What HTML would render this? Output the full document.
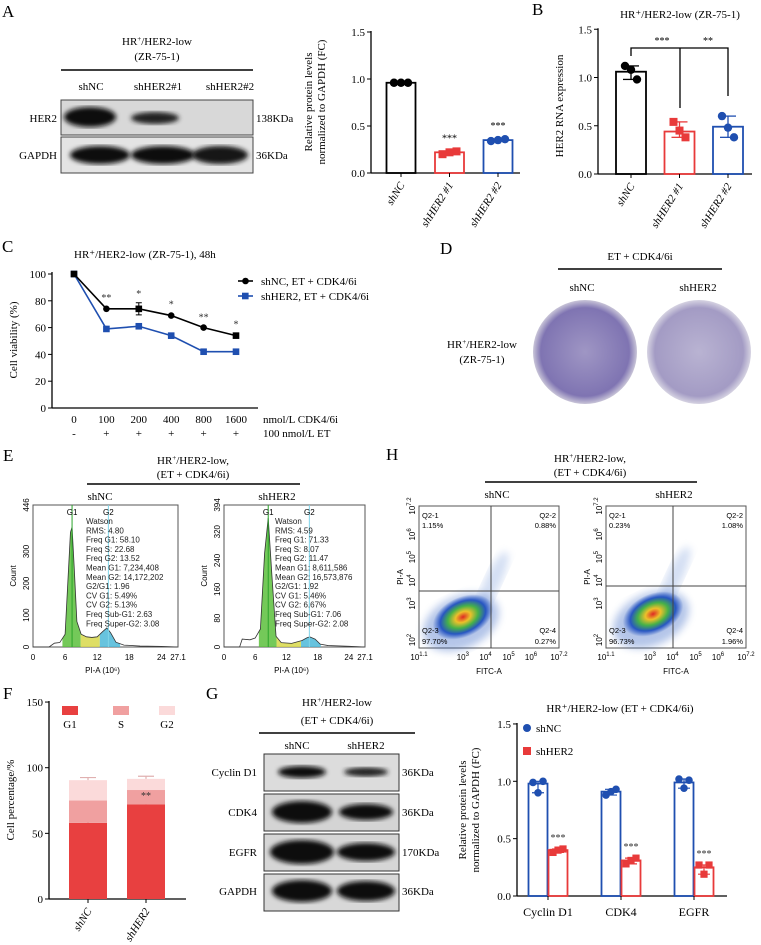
<!DOCTYPE html>
<html><head><meta charset="utf-8"><style>
html,body{margin:0;padding:0;background:#fff}
svg{display:block}
.s{font-family:"Liberation Serif",serif}
.a{font-family:"Liberation Sans",sans-serif}
</style></head><body>
<svg id="fig" width="761" height="945" viewBox="0 0 761 945" xmlns="http://www.w3.org/2000/svg">
<defs>
<radialGradient id="blob" cx="50%" cy="50%" r="50%">
<stop offset="0" stop-color="#e0201a"/><stop offset="0.25" stop-color="#f0c020"/><stop offset="0.5" stop-color="#40b040"/><stop offset="0.75" stop-color="#2050c0"/><stop offset="1" stop-color="#2050c0" stop-opacity="0"/>
</radialGradient>
<radialGradient id="plate" cx="50%" cy="50%" r="50%">
<stop offset="0" stop-color="#9f96c4"/><stop offset="0.85" stop-color="#7f74b2"/><stop offset="1" stop-color="#c9c5d8"/>
</radialGradient>
<radialGradient id="plate2" cx="50%" cy="50%" r="50%">
<stop offset="0" stop-color="#b9b3d2"/><stop offset="0.85" stop-color="#a39bc4"/><stop offset="1" stop-color="#d6d3e2"/>
</radialGradient>
<filter id="bl"><feGaussianBlur stdDeviation="2.5"/></filter>
<filter id="bl2"><feGaussianBlur stdDeviation="4"/></filter>
</defs>

<g class="s" font-size="17">
<text x="2" y="17">A</text>
<text x="532" y="15">B</text>
<text x="2" y="252">C</text>
<text x="440" y="254">D</text>
<text x="3" y="461">E</text>
<text x="386" y="460">H</text>
<text x="3" y="699">F</text>
<text x="206" y="699">G</text>
</g>

<g class="s" font-size="11">
<text x="157" y="45" text-anchor="middle">HR<tspan font-size="7" dy="-4">+</tspan><tspan dy="4">/HER2-low</tspan></text>
<text x="157" y="60" text-anchor="middle">(ZR-75-1)</text>
<line x1="61" y1="70" x2="253" y2="70" stroke="#000" stroke-width="1.5"/>
<text x="91" y="90" text-anchor="middle">shNC</text>
<text x="158" y="90" text-anchor="middle">shHER2#1</text>
<text x="230" y="90" text-anchor="middle">shHER2#2</text>
<rect x="61" y="100" width="192" height="35" fill="#d8d8d8" stroke="#444"/>
<rect x="61" y="137" width="192" height="36" fill="#e4e4e4" stroke="#444"/>
<ellipse cx="90" cy="117" rx="26" ry="10" fill="#111" filter="url(#bl)"/>
<ellipse cx="155" cy="118" rx="24" ry="6" fill="#222" filter="url(#bl)"/>
<ellipse cx="100" cy="155" rx="30" ry="9" fill="#111" filter="url(#bl)"/>
<ellipse cx="163" cy="155" rx="32" ry="9" fill="#111" filter="url(#bl)"/>
<ellipse cx="220" cy="155" rx="28" ry="9" fill="#151515" filter="url(#bl)"/>
<text x="57" y="122" text-anchor="end">HER2</text>
<text x="57" y="159" text-anchor="end">GAPDH</text>
<text x="256" y="122">138KDa</text>
<text x="256" y="159">36KDa</text>
</g>
<g id="chartA" class="s"></g>
<g id="chartB" class="s"></g>
<g id="chartC" class="s"></g>

<g class="s" font-size="11">
<text x="640" y="260" text-anchor="middle">ET + CDK4/6i</text>
<line x1="558" y1="269" x2="722" y2="269" stroke="#000" stroke-width="1.5"/>
<text x="582" y="291" text-anchor="middle">shNC</text>
<text x="698" y="291" text-anchor="middle">shHER2</text>
<text x="482" y="348" text-anchor="middle">HR<tspan font-size="7" dy="-4">+</tspan><tspan dy="4">/HER2-low</tspan></text>
<text x="482" y="363" text-anchor="middle">(ZR-75-1)</text>
<ellipse cx="585" cy="352" rx="52" ry="52" fill="url(#plate)"/>
<ellipse cx="699" cy="352" rx="52" ry="52" fill="url(#plate2)"/>
</g>

<g class="s" font-size="11">
<text x="193" y="464" text-anchor="middle">HR<tspan font-size="7" dy="-4">+</tspan><tspan dy="4">/HER2-low,</tspan></text>
<text x="193" y="478" text-anchor="middle">(ET + CDK4/6i)</text>
<line x1="87" y1="484" x2="300" y2="484" stroke="#000" stroke-width="1.5"/>
<text x="100" y="500" text-anchor="middle">shNC</text>
<text x="277" y="500" text-anchor="middle">shHER2</text>
</g>
<g id="histE" class="a"></g>

<g class="s" font-size="11">
<text x="590" y="462" text-anchor="middle">HR<tspan font-size="7" dy="-4">+</tspan><tspan dy="4">/HER2-low,</tspan></text>
<text x="590" y="476" text-anchor="middle">(ET + CDK4/6i)</text>
<line x1="485" y1="482" x2="697" y2="482" stroke="#000" stroke-width="1.5"/>
<text x="497" y="498" text-anchor="middle">shNC</text>
<text x="674" y="498" text-anchor="middle">shHER2</text>
</g>
<g id="flowH" class="a"></g>

<g id="chartF" class="s"></g>

<g class="s" font-size="11">
<text x="337" y="706" text-anchor="middle">HR<tspan font-size="7" dy="-4">+</tspan><tspan dy="4">/HER2-low</tspan></text>
<text x="337" y="724" text-anchor="middle">(ET + CDK4/6i)</text>
<line x1="259" y1="733" x2="415" y2="733" stroke="#000" stroke-width="1.5"/>
<text x="297" y="749" text-anchor="middle">shNC</text>
<text x="366" y="749" text-anchor="middle">shHER2</text>
<rect x="264" y="754" width="135" height="37" fill="#dcdcdc" stroke="#333"/>
<rect x="264" y="794" width="135" height="37" fill="#d4d4d4" stroke="#333"/>
<rect x="264" y="834" width="135" height="37" fill="#d6d6d6" stroke="#333"/>
<rect x="264" y="874" width="135" height="37" fill="#d8d8d8" stroke="#333"/>
<ellipse cx="302" cy="772" rx="24" ry="6" fill="#111" filter="url(#bl)"/>
<ellipse cx="366" cy="772" rx="22" ry="4.5" fill="#222" filter="url(#bl)"/>
<ellipse cx="302" cy="812" rx="30" ry="11" fill="#0a0a0a" filter="url(#bl)"/>
<ellipse cx="366" cy="812" rx="27" ry="8" fill="#111" filter="url(#bl)"/>
<ellipse cx="302" cy="852" rx="32" ry="12" fill="#0a0a0a" filter="url(#bl)"/>
<ellipse cx="366" cy="852" rx="29" ry="9" fill="#111" filter="url(#bl)"/>
<ellipse cx="302" cy="891" rx="30" ry="11" fill="#0a0a0a" filter="url(#bl)"/>
<ellipse cx="366" cy="891" rx="29" ry="10" fill="#0a0a0a" filter="url(#bl)"/>
<text x="257" y="776" text-anchor="end">Cyclin D1</text>
<text x="257" y="816" text-anchor="end">CDK4</text>
<text x="257" y="856" text-anchor="end">EGFR</text>
<text x="257" y="895" text-anchor="end">GAPDH</text>
<text x="402" y="776">36KDa</text>
<text x="402" y="816">36KDa</text>
<text x="402" y="856">170KDa</text>
<text x="402" y="895">36KDa</text>
</g>
<g id="chartG" class="s"></g>
</svg>

<script>
const aCats = ["shNC", "shHER2 #1", "shHER2 #2"];
const aMeans = [0.96, 0.22, 0.35];
const aPts = [[0.96, 0.96, 0.96], [0.20, 0.22, 0.23], [0.34, 0.35, 0.36]];
const aStars = ["", "***", "***"];
const bCats = ["shNC", "shHER2 #1", "shHER2 #2"];
const bMeans = [1.06, 0.44, 0.49];
const bPts = [[1.12, 1.08, 0.98], [0.54, 0.45, 0.38], [0.60, 0.48, 0.38]];
const barTicks = [0, 0.5, 1.0, 1.5];
const cDoses = ["0", "100", "200", "400", "800", "1600"];
const cEt = ["-", "+", "+", "+", "+", "+"];
const cNC = [100, 74, 74, 69, 60, 54];
const cNCerr = [1, 1.5, 4.5, 1.5, 1, 1.5];
const cHER2 = [100, 59, 61, 54, 42, 42];
const cHER2err = [1, 1, 1, 2, 1, 1];
const cStars = ["", "**", "*", "*", "**", "*"];
const cTicks = [0, 20, 40, 60, 80, 100];
const fCats = ["shNC", "shHER2"];
const fG1 = [58, 72];
const fS = [17, 11];
const fG2 = [15.5, 8.5];
const fTicks = [0, 50, 100, 150];
const gCats = ["Cyclin D1", "CDK4", "EGFR"];
const gNC = [0.98, 0.91, 0.99];
const gNCpts = [[0.99, 0.90, 1.00], [0.88, 0.91, 0.93], [1.02, 0.94, 1.01]];
const gHER2 = [0.40, 0.31, 0.25];
const gHER2pts = [[0.38, 0.40, 0.41], [0.28, 0.31, 0.33], [0.27, 0.19, 0.27]];
const e1X = [0, 3, 4, 5, 6, 6.5, 7, 7.3, 7.7, 8.2, 9, 10, 11, 12, 13, 13.8, 14.5, 15.5, 17, 20, 24, 27];
const e1Y = [0, 0, 12, 14, 40, 200, 360, 377, 250, 80, 40, 32, 30, 32, 48, 60, 45, 15, 6, 3, 2, 0];
const e2X = [0, 3, 3.5, 5, 6, 7, 7.8, 8.5, 9.2, 10, 11, 13, 15, 16, 16.5, 17.5, 18.5, 20, 24, 27];
const e2Y = [0, 0, 22, 20, 25, 50, 260, 358, 200, 30, 12, 10, 18, 26, 28, 22, 8, 4, 2, 0];
const eText1 = ["Watson","RMS: 4.80","Freq G1: 58.10","Freq S: 22.68","Freq G2: 13.52","Mean G1: 7,234,408","Mean G2: 14,172,202","G2/G1: 1.96","CV G1: 5.49%","CV G2: 5.13%","Freq Sub-G1: 2.63","Freq Super-G2: 3.08"];
const eText2 = ["Watson","RMS: 4.59","Freq G1: 71.33","Freq S: 8.07","Freq G2: 11.47","Mean G1: 8,611,586","Mean G2: 16,573,876","G2/G1: 1.92","CV G1: 5.46%","CV G2: 6.67%","Freq Sub-G1: 7.06","Freq Super-G2: 2.08"];
const hQuad1 = ["1.15%", "0.88%", "97.70%", "0.27%"];
const hQuad2 = ["0.23%", "1.08%", "96.73%", "1.96%"];

const NS = "http://www.w3.org/2000/svg";
function mk(parent, tag, attrs, text) {
  const el = document.createElementNS(NS, tag);
  for (const k in attrs) el.setAttribute(k, attrs[k]);
  if (text !== undefined) el.textContent = text;
  parent.appendChild(el);
  return el;
}

function barChart(gid, cats, means, pts, colors, cfg) {
  const g = document.getElementById(gid);
  const y = v => cfg.y0 - v * cfg.py;
  mk(g, "line", {x1: cfg.ax, y1: y(1.5) - 1, x2: cfg.ax, y2: cfg.y0, stroke: "#000", "stroke-width": 1.3});
  mk(g, "line", {x1: cfg.ax, y1: cfg.y0, x2: cfg.xend, y2: cfg.y0, stroke: "#000", "stroke-width": 1.3});
  barTicks.forEach(t => {
    mk(g, "line", {x1: cfg.ax - 4, y1: y(t), x2: cfg.ax, y2: y(t), stroke: "#000"});
    const tx = mk(g, "text", {x: cfg.ax - 6, y: y(t) + 4, "text-anchor": "end", "font-size": 11}, t.toFixed(1));
    
    
  });
  cats.forEach((c, i) => {
    const cx = cfg.x0 + i * cfg.dx;
    const b = mk(g, "rect", {x: cx - cfg.bw / 2, y: y(means[i]), width: cfg.bw, height: cfg.y0 - y(means[i]), fill: "none", stroke: colors[i], "stroke-width": 1.8});
    
    
    const lo = Math.min(...pts[i]), hi = Math.max(...pts[i]);
    mk(g, "line", {x1: cx, y1: y(hi), x2: cx, y2: y(lo), stroke: colors[i], "stroke-width": 1.3});
    mk(g, "line", {x1: cx - 8, y1: y(hi), x2: cx + 8, y2: y(hi), stroke: colors[i], "stroke-width": 1.3});
    mk(g, "line", {x1: cx - 8, y1: y(lo), x2: cx + 8, y2: y(lo), stroke: colors[i], "stroke-width": 1.3});
    mk(g, "line", {x1: cx, y1: cfg.y0, x2: cx, y2: cfg.y0 + 4, stroke: "#000"});
    pts[i].forEach((p, j) => {
      const px = cx + (j - 1) * cfg.jit;
      let m;
      if (i === 1) m = mk(g, "rect", {x: px - 4, y: y(p) - 4, width: 8, height: 8, fill: colors[i]});
      else m = mk(g, "circle", {cx: px, cy: y(p), r: 4.2, fill: colors[i]});
      
      
    });
    if (cfg.stars && cfg.stars[i]) mk(g, "text", {x: cx, y: y(hi) - 10, "text-anchor": "middle", "font-size": 10}, cfg.stars[i]);
    const lx = cx + 4, ly = cfg.y0 + 12;
    const lt = mk(g, "text", {x: lx, y: ly, "text-anchor": "end", "font-size": 11, "font-style": "italic", transform: `rotate(-58 ${lx} ${ly})`}, c);
    
    
  });
  const yl = mk(g, "text", {transform: `translate(${cfg.ylx},${cfg.yly}) rotate(-90)`, "text-anchor": "middle", "font-size": 11});
  cfg.ylab.forEach((l, k) => mk(yl, "tspan", {x: 0, dy: k ? 13 : 0}, l));
  
  
}
const cols3 = ["#000", "#e83a3a", "#1f4fb0"];
barChart("chartA", aCats, aMeans, aPts, cols3, {ax: 371, y0: 173, py: 94, x0: 401, dx: 48.5, bw: 29, xend: 520, jit: 7, stars: aStars, ylx: 312, yly: 102, ylab: ["Relative protein levels", "normalized to GAPDH (FC)"]});
barChart("chartB", bCats, bMeans, bPts, cols3, {ax: 598, y0: 174, py: 96.5, x0: 631, dx: 48.5, bw: 30, xend: 752, jit: 6, ylx: 563, yly: 106, ylab: ["HER2 RNA expression"]});
(function () {
  const g = document.getElementById("chartB");
  mk(g, "text", {x: 680, y: 18, "text-anchor": "middle", "font-size": 11}, "HR⁺/HER2-low (ZR-75-1)");
  mk(g, "path", {d: "M631 56 V48 H728 V96 M680 48 V108", fill: "none", stroke: "#000", "stroke-width": 1.3});
  mk(g, "text", {x: 662, y: 44, "text-anchor": "middle", "font-size": 10}, "***");
  mk(g, "text", {x: 708, y: 44, "text-anchor": "middle", "font-size": 10}, "**");
})();

(function () {
  const g = document.getElementById("chartC");
  const y = v => 408 - v * 1.34;
  const x = i => 74 + i * 32.4;
  mk(g, "text", {x: 74, y: 258, "font-size": 11}, "HR⁺/HER2-low (ZR-75-1), 48h");
  mk(g, "line", {x1: 52, y1: 272, x2: 52, y2: 408, stroke: "#000", "stroke-width": 1.3});
  mk(g, "line", {x1: 52, y1: 408, x2: 258, y2: 408, stroke: "#000", "stroke-width": 1.3});
  cTicks.forEach(t => {
    mk(g, "line", {x1: 48, y1: y(t), x2: 52, y2: y(t), stroke: "#000"});
    const tt = mk(g, "text", {x: 46, y: y(t) + 4, "text-anchor": "end", "font-size": 11}, t);
    
    
  });
  cDoses.forEach((d, i) => {
    const tt = mk(g, "text", {x: x(i), y: 423, "text-anchor": "middle", "font-size": 11}, d);
    
    
    mk(g, "text", {x: x(i), y: 437, "text-anchor": "middle", "font-size": 11}, cEt[i]);
  });
  mk(g, "text", {x: 263, y: 423, "font-size": 11}, "nmol/L CDK4/6i");
  mk(g, "text", {x: 263, y: 437, "font-size": 11}, "100 nmol/L ET");
  const yl = mk(g, "text", {transform: "translate(17,340) rotate(-90)", "text-anchor": "middle", "font-size": 11}, "Cell viability (%)");
  
  
  [[cHER2, cHER2err, "#1f4fb0", "square"], [cNC, cNCerr, "#000", "circle"]].forEach(([vals, errs, col, shp]) => {
    const pl = mk(g, "polyline", {points: vals.map((v, i) => x(i) + "," + y(v)).join(" "), fill: "none", stroke: col, "stroke-width": 1.6});
    
    
    vals.forEach((v, i) => {
      if (errs[i] > 1.5) {
        mk(g, "path", {d: `M${x(i) - 3} ${y(v + errs[i])} H${x(i) + 3} M${x(i)} ${y(v + errs[i])} V${y(v - errs[i])} M${x(i) - 3} ${y(v - errs[i])} H${x(i) + 3}`, stroke: col, fill: "none"});
      }
      let m;
      if (shp === "square" || i === 0 || i === 5 || i === 2) m = mk(g, "rect", {x: x(i) - 3.3, y: y(v) - 3.3, width: 6.6, height: 6.6, fill: col});
      else m = mk(g, "circle", {cx: x(i), cy: y(v), r: 3.3, fill: col});
      
      
    });
  });
  cStars.forEach((s, i) => { if (s) mk(g, "text", {x: x(i), y: y(cNC[i] + cNCerr[i]) - 6, "text-anchor": "middle", "font-size": 10, fill: "#333"}, s); });
  mk(g, "line", {x1: 238, y1: 281, x2: 253, y2: 281, stroke: "#000", "stroke-width": 1.6});
  mk(g, "circle", {cx: 245.5, cy: 281, r: 3.3, fill: "#000"});
  mk(g, "text", {x: 261, y: 285, "font-size": 11}, "shNC, ET + CDK4/6i");
  mk(g, "line", {x1: 238, y1: 296, x2: 253, y2: 296, stroke: "#1f4fb0", "stroke-width": 1.6});
  mk(g, "rect", {x: 242, y: 292.7, width: 6.6, height: 6.6, fill: "#1f4fb0"});
  mk(g, "text", {x: 261, y: 300, "font-size": 11}, "shHER2, ET + CDK4/6i");
})();

let clipN = 0;
function hist(L, R, ymax, yt, xs, ys, text, tx) {
  const g = document.getElementById("histE");
  const defs = document.querySelector("defs");
  const T = 505, B = 647;
  const x = v => L + v * (R - L) / 27.1;
  const y = v => B - v * (B - T) / ymax;
  mk(g, "rect", {x: L, y: T, width: R - L, height: B - T, fill: "#fff", stroke: "#555"});
  const pts = xs.map((v, i) => x(v) + "," + y(ys[i])).join(" ");
  const poly = x(xs[0]) + "," + B + " " + pts + " " + x(xs[xs.length - 1]) + "," + B;
  const pk = ys.indexOf(Math.max(...ys));
  const g2x = xs[pk] * 1.93;
  const bands = [[x(xs[pk] - 1.8), x(xs[pk] + 1.6), "#5cbf3c"], [x(xs[pk] + 1.6), x(g2x - 1.6), "#d8d84a"], [x(g2x - 1.6), x(g2x + 2.2), "#4cb8d8"]];
  bands.forEach(([a, b, c]) => {
    const id = "hc" + (clipN++);
    const cp = mk(defs, "clipPath", {id: id});
    mk(cp, "rect", {x: a, y: T, width: b - a, height: B - T});
    const area = mk(g, "polygon", {points: poly, fill: c, opacity: 0.85, "clip-path": `url(#${id})`});
    
    
  });
  const ln = mk(g, "polyline", {points: pts, fill: "none", stroke: "#333", "stroke-width": 0.8});
  
  
  mk(g, "line", {x1: x(xs[pk]), y1: T, x2: x(xs[pk]), y2: B, stroke: "#2aa52a"});
  mk(g, "line", {x1: x(g2x), y1: T, x2: x(g2x), y2: B, stroke: "#7fd4e8"});
  mk(g, "text", {x: x(xs[pk]), y: T + 10, "text-anchor": "middle", "font-size": 8}, "G1");
  mk(g, "text", {x: x(g2x), y: T + 10, "text-anchor": "middle", "font-size": 8}, "G2");
  text.forEach((t, i) => mk(g, "text", {x: tx, y: 524 + i * 9.3, "font-size": 8, fill: "#222"}, t));
  [0, 6, 12, 18, 24, 27.1].forEach(v => mk(g, "text", {x: x(v), y: 660, "text-anchor": "middle", "font-size": 8}, v));
  mk(g, "text", {x: (L + R) / 2 - 3, y: 673, "text-anchor": "middle", "font-size": 8}, "PI-A (10⁶)");
  yt.forEach(v => mk(g, "text", {transform: `translate(${L - 4},${y(v)}) rotate(-90)`, "text-anchor": "middle", "font-size": 8}, v));
  mk(g, "text", {transform: `translate(${L - 17},576) rotate(-90)`, "text-anchor": "middle", "font-size": 8}, "Count");
}
hist(33, 178, 446, [0, 100, 200, 300, 446], e1X, e1Y, eText1, 86);
hist(224, 365, 394, [0, 80, 160, 240, 320, 394], e2X, e2Y, eText2, 275);

function flow(L, R, vx, hy, bx, by, q) {
  const g = document.getElementById("flowH");
  const T = 506, B = 648;
  mk(g, "rect", {x: L, y: T, width: R - L, height: B - T, fill: "#fff", stroke: "#555"});
  mk(g, "ellipse", {cx: vx + 2, cy: hy - 10, rx: 8, ry: 32, fill: "#5580d0", opacity: 0.25, filter: "url(#bl2)", transform: `rotate(25 ${vx + 2} ${hy - 10})`});
  mk(g, "ellipse", {cx: bx - 4, cy: by + 4, rx: 40, ry: 26, fill: "#2a5cc0", opacity: 0.35, filter: "url(#bl2)", transform: `rotate(-25 ${bx} ${by})`});
  const d = mk(g, "ellipse", {cx: bx, cy: by, rx: 32, ry: 20, fill: "url(#blob)", transform: `rotate(-25 ${bx} ${by})`, opacity: 0.95});
  
  
  mk(g, "line", {x1: vx, y1: T, x2: vx, y2: B, stroke: "#444"});
  mk(g, "line", {x1: L, y1: hy, x2: R, y2: hy, stroke: "#444"});
  mk(g, "text", {x: L + 3, y: T + 12, "font-size": 7.5}, "Q2-1");
  mk(g, "text", {x: L + 3, y: T + 22, "font-size": 7.5}, q[0]);
  mk(g, "text", {x: R - 3, y: T + 12, "font-size": 7.5, "text-anchor": "end"}, "Q2-2");
  mk(g, "text", {x: R - 3, y: T + 22, "font-size": 7.5, "text-anchor": "end"}, q[1]);
  mk(g, "text", {x: L + 3, y: B - 15, "font-size": 7.5}, "Q2-3");
  mk(g, "text", {x: L + 3, y: B - 4, "font-size": 7.5}, q[2]);
  mk(g, "text", {x: R - 3, y: B - 15, "font-size": 7.5, "text-anchor": "end"}, "Q2-4");
  mk(g, "text", {x: R - 3, y: B - 4, "font-size": 7.5, "text-anchor": "end"}, q[3]);
  const xt = [["10", "1.1", 0], ["10", "3", 0.313], ["10", "4", 0.475], ["10", "5", 0.64], ["10", "6", 0.8], ["10", "7.2", 1]];
  xt.forEach(([b, e, f]) => {
    const t = mk(g, "text", {x: L + f * (R - L), y: 660, "text-anchor": "middle", "font-size": 8}, b);
    mk(t, "tspan", {dy: -4, "font-size": 6}, e);
    if (f > 0) {
      const yy = B - f * (B - T);
      const t2 = mk(g, "text", {transform: `translate(${L - 4},${yy}) rotate(-90)`, "text-anchor": "middle", "font-size": 8}, b);
      mk(t2, "tspan", {dy: -4, "font-size": 6}, e);
    }
  });
  const t0 = mk(g, "text", {transform: `translate(${L - 4},${B - 8}) rotate(-90)`, "text-anchor": "middle", "font-size": 8}, "10");
  mk(t0, "tspan", {dy: -4, "font-size": 6}, "2");
  mk(g, "text", {x: (L + R) / 2, y: 674, "text-anchor": "middle", "font-size": 8}, "FITC-A");
  mk(g, "text", {transform: `translate(${L - 16},577) rotate(-90)`, "text-anchor": "middle", "font-size": 8}, "PI-A");
}
flow(419, 559, 491, 591, 463, 617, hQuad1);
flow(606, 746, 673, 586, 653, 614, hQuad2);

(function () {
  const g = document.getElementById("chartF");
  const y = v => 899 - v * 1.313;
  mk(g, "line", {x1: 49, y1: 701, x2: 49, y2: 899, stroke: "#000", "stroke-width": 1.3});
  mk(g, "line", {x1: 49, y1: 899, x2: 186, y2: 899, stroke: "#000", "stroke-width": 1.3});
  fTicks.forEach(t => {
    mk(g, "line", {x1: 45, y1: y(t), x2: 49, y2: y(t), stroke: "#000"});
    const tt = mk(g, "text", {x: 43, y: y(t) + 4, "text-anchor": "end", "font-size": 11}, t);
    
    
  });
  const yl = mk(g, "text", {transform: "translate(14,800) rotate(-90)", "text-anchor": "middle", "font-size": 11}, "Cell percentage/%");
  
  
  const cols = ["#e84040", "#f0a0a0", "#fbdada"];
  fCats.forEach((c, i) => {
    const cx = 88 + i * 58, bw = 38;
    let base = 0;
    [fG1[i], fS[i], fG2[i]].forEach((v, k) => {
      const r = mk(g, "rect", {x: cx - bw / 2, y: y(base + v), width: bw, height: v * 1.313, fill: cols[k]});
      
      
      const top = base + v;
      mk(g, "path", {d: `M${cx} ${y(top)} V${y(top + 2)} M${cx - 8} ${y(top + 2)} H${cx + 8}`, stroke: ["#a02020", "#e07070", "#e0b0b0"][k], fill: "none", "stroke-width": 1.2});
      base = top;
    });
    mk(g, "line", {x1: cx, y1: 899, x2: cx, y2: 903, stroke: "#000"});
    const lx = cx + 4, ly = 911;
    const lt = mk(g, "text", {x: lx, y: ly, "text-anchor": "end", "font-size": 11, "font-style": "italic", transform: `rotate(-58 ${lx} ${ly})`}, c);
    
    
  });
  mk(g, "text", {x: 146, y: y(fG1[1] + 4), "text-anchor": "middle", "font-size": 10, fill: "#333"}, "**");
  [["G1", 70, cols[0]], ["S", 121, cols[1]], ["G2", 167, cols[2]]].forEach(([l, x, c]) => {
    const r = mk(g, "rect", {x: x - 8, y: 706, width: 16, height: 9, fill: c});
    
    
    mk(g, "text", {x: x, y: 728, "text-anchor": "middle", "font-size": 11}, l);
  });
})();

(function () {
  const g = document.getElementById("chartG");
  const y = v => 896 - v * 114.7;
  mk(g, "text", {x: 620, y: 712, "text-anchor": "middle", "font-size": 11}, "HR⁺/HER2-low (ET + CDK4/6i)");
  mk(g, "line", {x1: 517, y1: 723, x2: 517, y2: 896, stroke: "#000", "stroke-width": 1.3});
  mk(g, "line", {x1: 517, y1: 896, x2: 727, y2: 896, stroke: "#000", "stroke-width": 1.3});
  barTicks.forEach(t => {
    mk(g, "line", {x1: 513, y1: y(t), x2: 517, y2: y(t), stroke: "#000"});
    const tt = mk(g, "text", {x: 511, y: y(t) + 4, "text-anchor": "end", "font-size": 11}, t.toFixed(1));
    
    
  });
  const yl = mk(g, "text", {transform: "translate(466,810) rotate(-90)", "text-anchor": "middle", "font-size": 11});
  mk(yl, "tspan", {x: 0, dy: 0}, "Relative protein levels");
  mk(yl, "tspan", {x: 0, dy: 13}, "normalized to GAPDH (FC)");
  
  
  gCats.forEach((c, i) => {
    const cx = 548 + i * 73;
    [[gNC, gNCpts, "#1f4fb0", -10, "c"], [gHER2, gHER2pts, "#e83a3a", 10, "s"]].forEach(([m, p, col, off, shp]) => {
      const bx = cx + off;
      const b = mk(g, "rect", {x: bx - 9.5, y: y(m[i]), width: 19, height: m[i] * 114.7, fill: "none", stroke: col, "stroke-width": 1.8});
      
      
      const lo = Math.min(...p[i]), hi = Math.max(...p[i]);
      mk(g, "path", {d: `M${bx - 6} ${y(hi)} H${bx + 6} M${bx} ${y(hi)} V${y(lo)} M${bx - 6} ${y(lo)} H${bx + 6}`, stroke: col, fill: "none", "stroke-width": 1.2});
      p[i].forEach((v, j) => {
        const px = bx + (j - 1) * 5;
        let pt;
        if (shp === "c") pt = mk(g, "circle", {cx: px, cy: y(v), r: 3.8, fill: col});
        else pt = mk(g, "rect", {x: px - 3.6, y: y(v) - 3.6, width: 7.2, height: 7.2, fill: col});
        
        
      });
      if (shp === "s") mk(g, "text", {x: bx, y: y(hi) - 8, "text-anchor": "middle", "font-size": 10, fill: "#333"}, "***");
    });
    mk(g, "line", {x1: cx, y1: 896, x2: cx, y2: 900, stroke: "#000"});
    const lt = mk(g, "text", {x: cx, y: 916, "text-anchor": "middle", "font-size": 12}, c);
    
    
  });
  const l1 = mk(g, "circle", {cx: 527, cy: 728, r: 4, fill: "#1f4fb0"});
  
  
  mk(g, "text", {x: 536, y: 732, "font-size": 11}, "shNC");
  const l2 = mk(g, "rect", {x: 523, y: 747, width: 8, height: 8, fill: "#e83a3a"});
  
  
  mk(g, "text", {x: 536, y: 755, "font-size": 11}, "shHER2");
})();
</script>
</body></html>
